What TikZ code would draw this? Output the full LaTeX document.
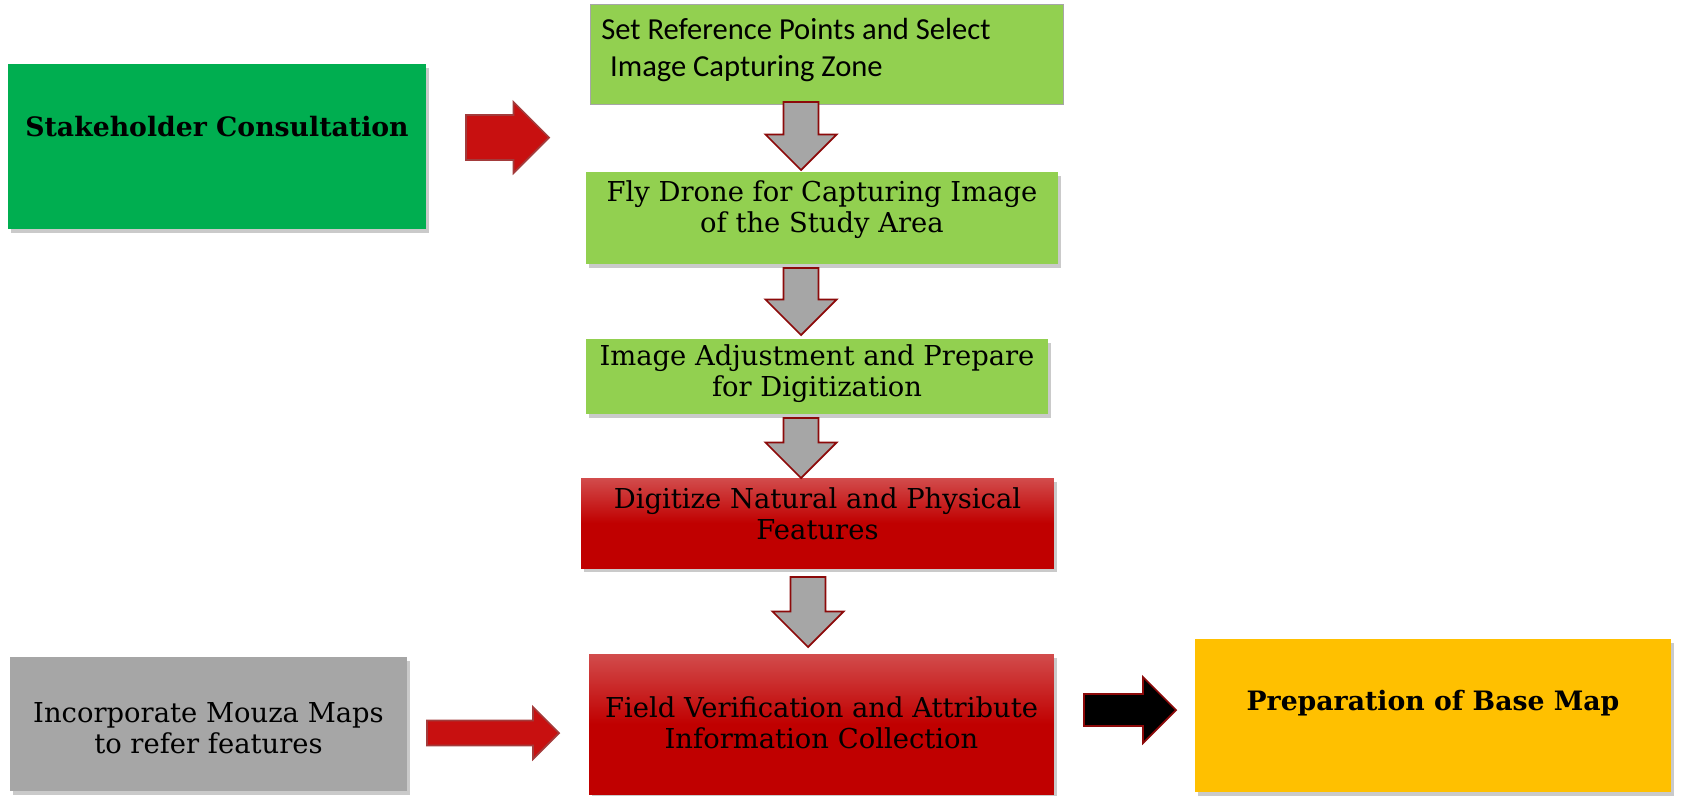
\documentclass[tikz,border=0pt]{standalone}
\usepackage{fontspec}
\setmainfont{DejaVu Serif}
\newfontfamily\calibri{Carlito}
\usetikzlibrary{shadows}

\definecolor{grass}{HTML}{00AE50}
\definecolor{leaf}{HTML}{92D050}
\definecolor{brick}{HTML}{C00000}
\definecolor{bricklight}{HTML}{D24C4C}
\definecolor{stone}{HTML}{A6A6A6}
\definecolor{amber}{HTML}{FFC000}
\definecolor{rim}{HTML}{8C0A0A}
\definecolor{arrowred}{HTML}{C81010}

% block arrow: style, tail, angle, length, head width, shaft width
\newcommand{\fatarrow}[6]{%
  \draw[#1, shift={(#2)}, rotate=#3]
    (0,{#6/2}) -- ({#4-#5/2},{#6/2}) -- ({#4-#5/2},{#5/2}) -- (#4,0)
    -- ({#4-#5/2},{-#5/2}) -- ({#4-#5/2},{-#6/2}) -- (0,{-#6/2}) -- cycle;}

\tikzset{
  box/.style={rectangle, inner sep=0pt,
    drop shadow={shadow xshift=1.5pt, shadow yshift=-2pt, opacity=0.35, fill=black!60}},
  redbox/.style={box, top color=bricklight, bottom color=brick, middle color=brick},
  txt/.style={inner sep=0pt, align=center, font=\fontsize{15.6}{17.6}\selectfont},
  boldtxt/.style={inner sep=0pt, font=\fontsize{15.2}{18}\selectfont\bfseries},
  grayarrow/.style={fill=stone, draw=rim, line width=1pt},
  redarrow/.style={fill=arrowred, draw=rim!80, line width=1pt},
  blackarrow/.style={fill=black, draw=rim, line width=1pt}
}

\begin{document}
\begin{tikzpicture}[x=0.02cm, y=-0.02cm]
\useasboundingbox (0,0) rectangle (1683,795);

% boxes
\node[box, fill=grass, minimum width=8.36cm, minimum height=3.3cm] (stake) at (217,146.5) {};
\node[boldtxt] (stake-t) at (217,127) {Stakeholder Consultation};

\node[rectangle, fill=leaf, draw=stone, line width=0.5pt, minimum width=9.46cm, minimum height=2cm] (setref) at (826.5,54) {};
\node[inner sep=0pt, anchor=west, align=left, font=\calibri\fontsize{17.4}{20.7}\selectfont] (setref-t) at (601,50)
  {Set Reference Points and Select\\\hspace*{5pt}Image Capturing Zone};

\node[box, fill=leaf, minimum width=9.44cm, minimum height=1.84cm] (fly) at (822,218) {};
\node[txt] (fly-t) at (822,210) {Fly Drone for Capturing Image\\of the Study Area};

\node[box, fill=leaf, minimum width=9.24cm, minimum height=1.5cm] (adj) at (817,376.5) {};
\node[txt] (adj-t) at (817,374) {Image Adjustment and Prepare\\for Digitization};

\node[redbox, minimum width=9.46cm, minimum height=1.8cm] (digit) at (817.5,523) {};
\node[txt] (digit-t) at (817.5,514) {Digitize Natural and Physical\\Features};

\node[redbox, minimum width=9.3cm, minimum height=2.8cm] (field) at (821.5,724) {};
\node[txt] (field-t) at (821.5,723) {Field Verification and Attribute\\Information Collection};

\node[box, fill=stone, minimum width=7.94cm, minimum height=2.68cm] (mouza) at (208.5,724) {};
\node[txt] (mouza-t) at (208.5,728) {Incorporate Mouza Maps\\to refer features};

\node[box, fill=amber, minimum width=9.52cm, minimum height=3.06cm] (basemap) at (1433,715.5) {};
\node[boldtxt] (basemap-t) at (1433,703) {Preparation of Base Map};

% arrows
\coordinate (g1) at (801,102);
\coordinate (g2) at (801,268);
\coordinate (g3) at (801,418);
\coordinate (g4) at (808,577);
\coordinate (r1) at (466,137.5);
\coordinate (r2) at (427,733);
\coordinate (k1) at (1084,710);

\fatarrow{grayarrow}{g1}{-90}{68}{71}{35}
\fatarrow{grayarrow}{g2}{-90}{67}{71}{35}
\fatarrow{grayarrow}{g3}{-90}{60}{71}{35}
\fatarrow{grayarrow}{g4}{-90}{70}{71}{35}
\fatarrow{redarrow}{r1}{0}{83}{71}{45}
\fatarrow{redarrow}{r2}{0}{132}{52}{25}
\fatarrow{blackarrow}{k1}{0}{92}{66}{32}
\end{tikzpicture}
\end{document}
